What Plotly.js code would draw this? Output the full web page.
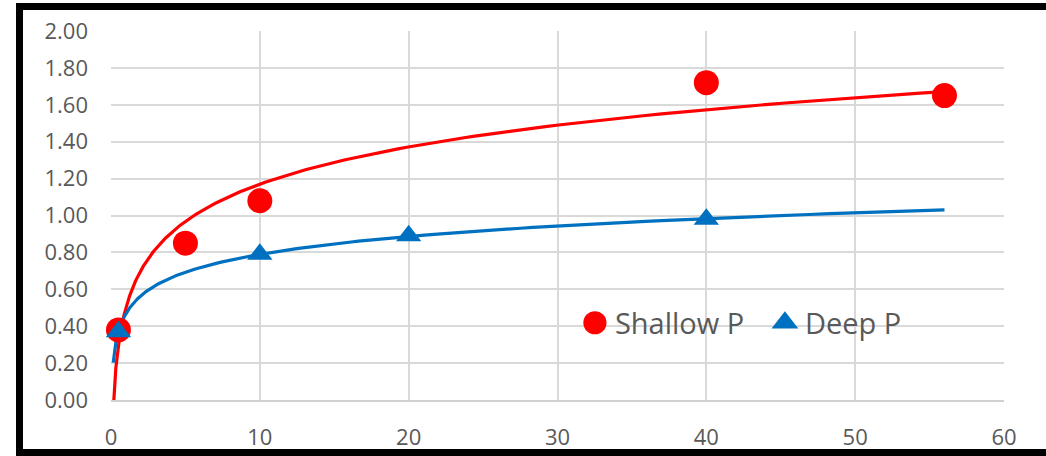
<!DOCTYPE html>
<html>
<head>
<meta charset="utf-8">
<script src="https://cdn.plot.ly/plotly-3.0.1.min.js"></script>
<style>
  html, body { margin: 0; padding: 0; background: #fff; overflow: hidden; }
  #wrap { position: relative; width: 1046px; height: 456px; overflow: hidden; }
  #chart { position: absolute; left: 0; top: 0; width: 1046px; height: 456px; }
  #frame { position: absolute; left: 16px; top: 3px; width: 1100px; height: 453px;
           box-sizing: border-box; border: 7px solid #000; pointer-events: none; }
</style>
</head>
<body>
<div id="wrap">
  <div id="chart"></div>
  <div id="frame"></div>
</div>
<script>
// Data
const shallowX = [0.5, 5, 10, 40, 56];
const shallowY = [0.38, 0.85, 1.08, 1.72, 1.65];
const deepX = [0.5, 10, 20, 40];
const deepY = [0.37, 0.79, 0.89, 0.98];
const seriesNames = ["Shallow P", "Deep P"];
const xTicks = [0, 10, 20, 30, 40, 50, 60];
const yTicks = [0, 0.2, 0.4, 0.6, 0.8, 1.0, 1.2, 1.4, 1.6, 1.8, 2.0];
const trendRange = [0.15, 56];

// Logarithmic least-squares trendline (like Excel's)
function logFit(xs, ys) {
  const lx = xs.map(Math.log);
  const n = xs.length;
  const mx = lx.reduce((a, b) => a + b, 0) / n;
  const my = ys.reduce((a, b) => a + b, 0) / n;
  let sxy = 0, sxx = 0;
  for (let i = 0; i < n; i++) { sxy += (lx[i] - mx) * (ys[i] - my); sxx += (lx[i] - mx) ** 2; }
  const a = sxy / sxx, b = my - a * mx;
  return x => a * Math.log(x) + b;
}
function trend(xs, ys) {
  const f = logFit(xs, ys);
  const tx = [], ty = [];
  const N = 200;
  const l0 = Math.log(trendRange[0]), l1 = Math.log(trendRange[1]);
  for (let i = 0; i <= N; i++) {
    const x = Math.exp(l0 + (l1 - l0) * i / N);
    tx.push(x); ty.push(f(x));
  }
  return { tx, ty };
}
const tS = trend(shallowX, shallowY);
const tD = trend(deepX, deepY);

const RED = "#ff0000", BLUE = "#0070c0";
const traces = [
  { x: tS.tx, y: tS.ty, mode: "lines", line: { color: RED, width: 3.2 }, showlegend: false, hoverinfo: "skip" },
  { x: tD.tx, y: tD.ty, mode: "lines", line: { color: BLUE, width: 3.2 }, showlegend: false, hoverinfo: "skip" },
  { x: shallowX, y: shallowY, mode: "markers", name: seriesNames[0],
    marker: { symbol: "circle", size: 25, color: RED }, cliponaxis: false },
  { x: deepX, y: deepY, mode: "markers", name: seriesNames[1],
    marker: { symbol: "triangle-up", size: 22, color: BLUE }, cliponaxis: false }
];

const layout = {
  width: 1046, height: 456,
  margin: { l: 111, r: 42, t: 31, b: 56, pad: 0 },
  paper_bgcolor: "#ffffff", plot_bgcolor: "#ffffff",
  font: { family: "Open Sans, sans-serif", color: "#595959" },
  showlegend: true,
  legend: {
    orientation: "h", x: 0.5195, y: 0.209, xanchor: "left", yanchor: "middle",
    bgcolor: "rgba(0,0,0,0)", font: { size: 29, color: "#595959" },
    itemsizing: "trace", entrywidth: 145, traceorder: "normal"
  },
  xaxis: {
    range: [0, 60], tickvals: xTicks, ticktext: xTicks.map(String),
    showgrid: true, gridcolor: "#d9d9d9", gridwidth: 2,
    showline: true, linecolor: "#d0d0d0", linewidth: 2,
    zeroline: false, ticks: "", ticklabelstandoff: 17,
    tickfont: { size: 22, color: "#595959" }, fixedrange: true
  },
  yaxis: {
    range: [0, 2], tickvals: yTicks, ticktext: yTicks.map(v => v.toFixed(2)),
    showgrid: true, gridcolor: "#d9d9d9", gridwidth: 2,
    zeroline: false, showline: false, ticks: "", ticklabelstandoff: 22,
    tickfont: { size: 22, color: "#595959" }, fixedrange: true
  }
};

Plotly.newPlot("chart", traces, layout, { displayModeBar: false, staticPlot: true }).then(gd => {
  // enlarge legend symbols to match the reference's big legend markers
  gd.querySelectorAll(".legendpoints path.scatterpts").forEach(p => {
    const t = p.getAttribute("transform") || "";
    p.setAttribute("transform", t + " scale(1.45)");
  });
});
</script>
</body>
</html>
